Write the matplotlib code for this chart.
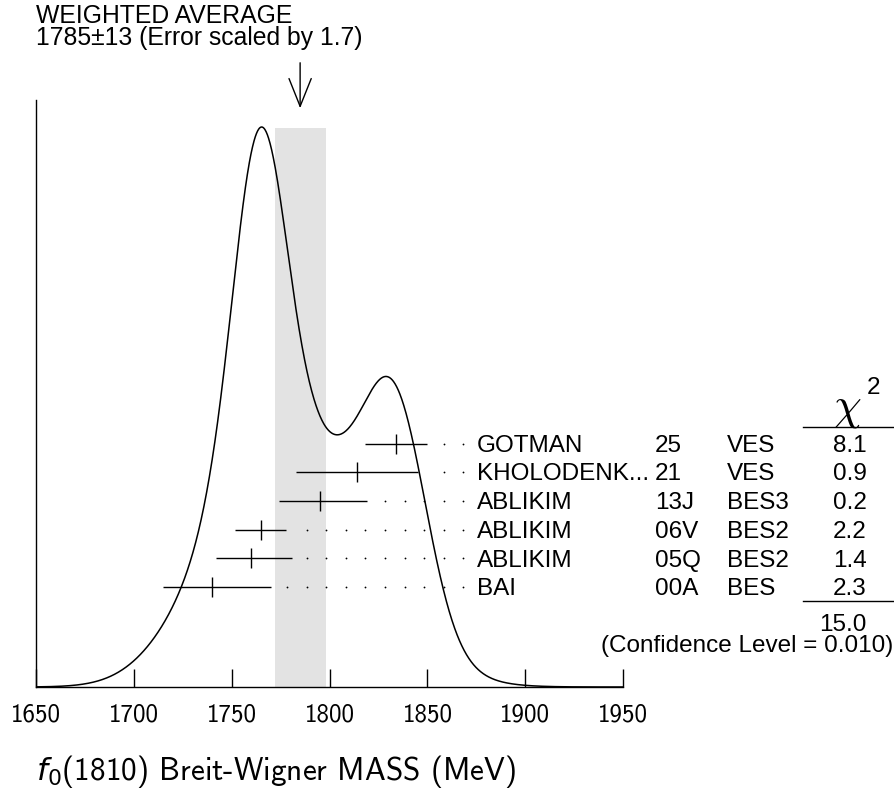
import numpy as np
import matplotlib
matplotlib.use('Agg')
import matplotlib.pyplot as plt

# measurements (MeV): central value, lower / upper error
names = ['GOTMAN', 'KHOLODENK...', 'ABLIKIM', 'ABLIKIM', 'ABLIKIM', 'BAI']
years = ['25', '21', '13J', '06V', '05Q', '00A']
expts = ['VES', 'VES', 'BES3', 'BES2', 'BES2', 'BES']
chi2 = ['8.1', '0.9', '0.2', '2.2', '1.4', '2.3']
mass = np.array([1834, 1814, 1795, 1765, 1760, 1740])
err_lo = np.array([16, 31, 21, 13, 18, 25])
err_hi = np.array([16, 31, 24, 13, 21, 30])

avg = 1785
avg_err = 13
chi2_total = '15.0'
conf_level = '0.010'
xticks = [1650, 1700, 1750, 1800, 1850, 1900, 1950]

W, H = 895, 789
fig = plt.figure(figsize=(W / 100, H / 100), dpi=100)
# axis box in pixels: x 35.7..623.3, y 100..687
ax = fig.add_axes([35.7 / W, (H - 687) / H, 587.6 / W, 587 / H])
ax.set_xlim(1650, 1950)
ax.set_ylim(0, 1)

def ypix(p):
    # pixel row -> axes fraction
    return (687 - p) / 587

txt = dict(family='Liberation Sans', fontsize=17.5, color='black')

# ideogram: one gaussian per measurement
x = np.linspace(1650, 1950, 1500)
curve = np.zeros_like(x)
for m, lo, hi in zip(mass, err_lo, err_hi):
    s = np.where(x < m, lo, hi)
    sa = 0.5 * (lo + hi)
    curve += np.exp(-0.5 * ((x - m) / s) ** 2) / sa ** 1.5
curve = curve / curve.max() * ypix(127)
ax.plot(x, curve, color='black', lw=1.1)

# weighted average band
ax.fill_between([avg - avg_err, avg + avg_err], 0, ypix(128),
                color='#e3e3e3', lw=0, zorder=0)
ax.annotate('', xy=(avg, ypix(111)), xytext=(avg, ypix(60)),
            arrowprops=dict(arrowstyle='->,head_length=0.5,head_width=0.2',
                            lw=1.0, color='black', mutation_scale=40),
            annotation_clip=False)

# error bars, dots and row labels
row_y = [ypix(443.5 + 28.7 * i) for i in range(len(mass))]
base_off = 8.3 / 587
dot_end = 1868.3
for i, y in enumerate(row_y):
    ax.errorbar(mass[i], y, xerr=[[err_lo[i]], [err_hi[i]]], fmt='|',
                color='black', ms=14.5, mew=1.0, elinewidth=1.0, capsize=0)
    right = mass[i] + err_hi[i]
    dots = dot_end - 10 * np.arange(0, 25)
    dots = dots[dots > right + 5]
    ax.plot(dots, [y] * len(dots), 'o', color='black', ms=1.3, mew=0,
            clip_on=False)
    ax.text(1875.1, y - base_off, names[i], va='baseline', ha='left', **txt)
    ax.text(1966.2, y - base_off, years[i], va='baseline', ha='left', **txt)
    ax.text(2002.8, y - base_off, expts[i], va='baseline', ha='left', **txt)
    ax.text(2074.4, y - base_off, chi2[i], va='baseline', ha='right', **txt)

# chi^2 column header and sum
fig.text(847 / W, (H - 418) / H, r'$\chi$', ha='center', va='baseline',
         fontsize=32, math_fontfamily='cm')
fig.text(867 / W, (H - 394) / H, '2', ha='left', va='baseline', **txt)
for p in (427, 601):
    fig.add_artist(plt.Line2D([803 / W, 1.0], [(H - p) / H] * 2,
                              color='black', lw=1.0))
ax.text(2074.4, ypix(623) - base_off, chi2_total, va='baseline', ha='right', **txt)
fig.text(893 / W, (H - 646) / H, '(Confidence Level = %s)' % conf_level,
         ha='right', va='center', **txt)

# header
hdr = dict(txt, fontsize=17.8)
fig.text(36 / W, (H - 16) / H, 'WEIGHTED AVERAGE', ha='left', va='center', **hdr)
fig.text(36 / W, (H - 38) / H,
         '%d\u00b1%d (Error scaled by 1.7)' % (avg, avg_err),
         ha='left', va='center', **hdr)

# axes styling
for s in ('top', 'right'):
    ax.spines[s].set_visible(False)
for s in ('left', 'bottom'):
    ax.spines[s].set_linewidth(1.0)
ax.set_yticks([])
ax.set_xticks(xticks)
ax.set_xticklabels([str(t) for t in xticks])
ax.tick_params(axis='x', direction='in', length=13, width=1.0, pad=12,
               labelsize=18, labelfontfamily='cmss10')
ax.set_xlabel(r'$f_0$(1810) Breit-Wigner MASS (MeV)', loc='left',
              fontsize=22.5, family='cmss10', labelpad=19)

fig.savefig('out.png', dpi=100)
